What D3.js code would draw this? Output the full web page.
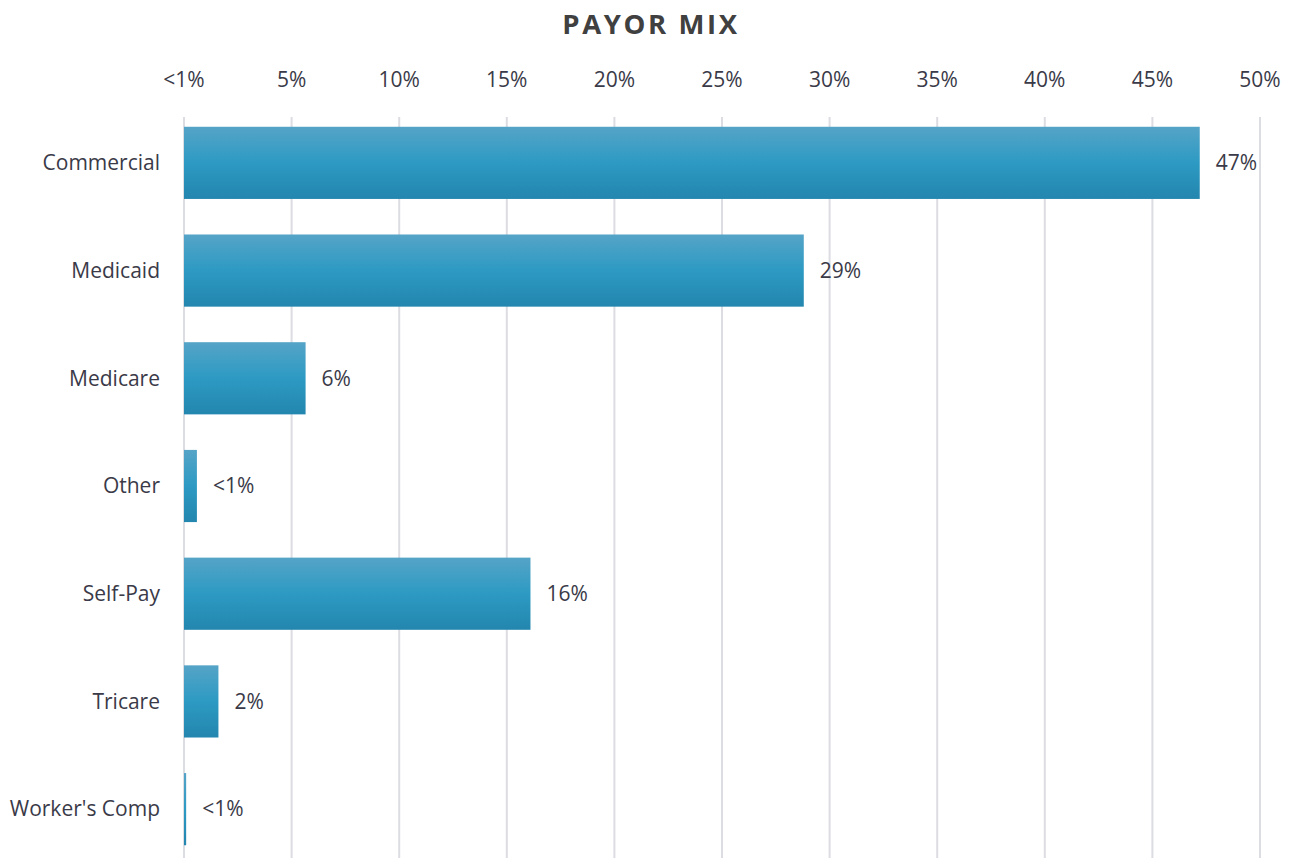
<!DOCTYPE html>
<html><head><meta charset="utf-8">
<script src="https://cdn.jsdelivr.net/npm/d3@7"></script>
<style>body{margin:0;background:#fff;}svg{display:block;font-family:"Open Sans",sans-serif;}</style>
</head><body><svg id="c" width="1294" height="858"></svg>
<script>
const categories = ["Commercial","Medicaid","Medicare","Other","Self-Pay","Tricare","Worker's Comp"];
const values = [47.2, 28.8, 5.65, 0.6, 16.1, 1.6, 0.1];
const valueLabels = ["47%","29%","6%","<1%","16%","2%","<1%"];
const tickValues = [0,5,10,15,20,25,30,35,40,45,50];
const tickLabels = ["<1%","5%","10%","15%","20%","25%","30%","35%","40%","45%","50%"];

const svg = d3.select("#c");
const x = d3.scaleLinear().domain([0,50]).range([184,1260]);
const y = d3.scaleBand().domain(categories).range([109,863]).paddingInner(0.33).paddingOuter(0.165);

const defs = svg.append("defs");
const g = defs.append("linearGradient").attr("id","bg").attr("x1",0).attr("y1",0).attr("x2",0).attr("y2",1);
g.append("stop").attr("offset","0%").attr("stop-color","#55a4c7");
g.append("stop").attr("offset","50%").attr("stop-color","#2d9ac3");
g.append("stop").attr("offset","100%").attr("stop-color","#2386ae");

svg.append("text").attr("x",651).attr("y",34).attr("text-anchor","middle")
  .attr("font-size",27.5).attr("font-weight","bold").attr("letter-spacing",2.6).attr("fill","#404040").text("PAYOR MIX");

// grid
svg.append("g").selectAll("line").data(tickValues).join("line")
  .attr("x1",d=>x(d)).attr("x2",d=>x(d)).attr("y1",117).attr("y2",858)
  .attr("stroke","#dcdce3").attr("stroke-width",2);

// top axis labels
svg.append("g").selectAll("text").data(tickValues).join("text")
  .attr("x",d=>x(d)).attr("y",87).attr("text-anchor","middle")
  .attr("font-size",21).attr("fill","#3a3a48").text((d,i)=>tickLabels[i]);

// bars
svg.append("g").selectAll("rect").data(values).join("rect")
  .attr("x",x(0)).attr("y",(d,i)=>y(categories[i])).attr("height",y.bandwidth())
  .attr("width",d=>x(d)-x(0)).attr("fill","url(#bg)");

// category labels
svg.append("g").selectAll("text").data(categories).join("text")
  .attr("x",160).attr("y",d=>y(d)+y.bandwidth()/2).attr("dy","0.35em").attr("text-anchor","end")
  .attr("font-size",21).attr("fill","#3a3a48").text(d=>d);

// value labels
svg.append("g").selectAll("text").data(values).join("text")
  .attr("x",d=>x(d)+16).attr("y",(d,i)=>y(categories[i])+y.bandwidth()/2).attr("dy","0.35em")
  .attr("font-size",21).attr("fill","#3a3a48").text((d,i)=>valueLabels[i]);
</script></body></html>
